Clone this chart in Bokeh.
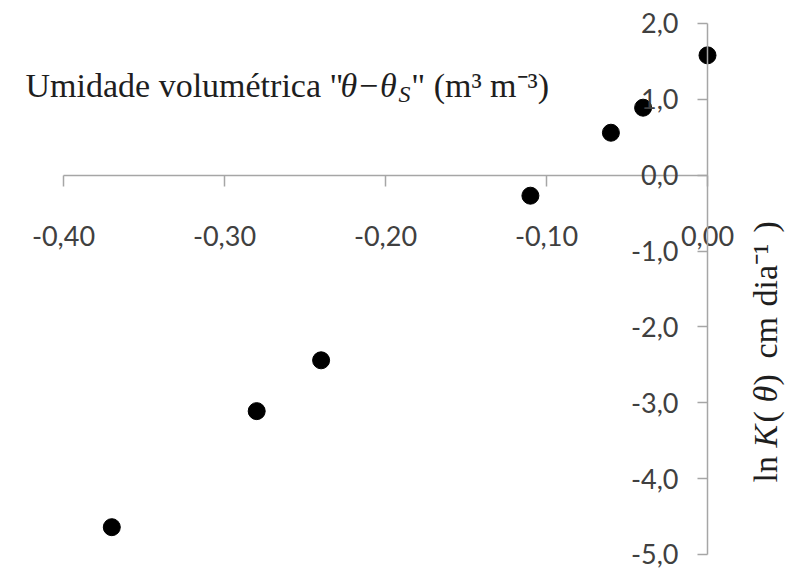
import math
from bokeh.plotting import figure
from bokeh.models import Range1d, FixedTicker, Label
from bokeh.embed import file_html
from bokeh.resources import INLINE

# ---- data ----
theta_diff = [-0.37, -0.28, -0.24, -0.11, -0.06, -0.04, 0.00]
ln_k = [-4.64, -3.11, -2.44, -0.27, 0.56, 0.89, 1.58]

x_ticks = [-0.40, -0.30, -0.20, -0.10, 0.00]
x_tick_labels = ["-0,40", "-0,30", "-0,20", "-0,10", "0,00"]
y_ticks = [-5.0, -4.0, -3.0, -2.0, -1.0, 0.0, 1.0, 2.0]
y_tick_labels = ["-5,0", "-4,0", "-3,0", "-2,0", "-1,0", "0,0", "1,0", "2,0"]

title_parts = ['Umidade volumétrica "', "θ−θ", "S", '" (m³ m⁻³)']
# y title pieces: (text, italic?)
y_title_parts = [("ln ", False), ("K", True), ("(", False), ("θ", True), (")", False),
                 ("cm", False), ("dia⁻¹", False), (")", False)]

AXIS_GRAY = "#a6a6a6"
LABEL_GRAY = "#404040"
TEXT_COLOR = "#1e1e1e"
SERIF = "Liberation Serif"

# the plotting frame fills the whole canvas so nothing gets clipped
p = figure(width=785, height=570, output_backend="svg", toolbar_location=None,
           x_range=Range1d(-0.43913, 0.048447), y_range=Range1d(-5.2110, 2.3032),
           min_border_left=0, min_border_right=0, min_border_top=0, min_border_bottom=0)
p.outline_line_color = None
p.xgrid.visible = False
p.ygrid.visible = False
p.background_fill_color = "white"
p.border_fill_color = "white"

p.scatter(theta_diff, ln_k, size=17, color="black")

# x axis through y = 0
xa = p.xaxis[0]
xa.fixed_location = 0
xa.bounds = (min(x_ticks), max(x_ticks))
xa.ticker = FixedTicker(ticks=x_ticks)
xa.major_label_overrides = dict(zip(x_ticks, x_tick_labels))
xa.major_tick_out = 11
xa.major_tick_in = 0
xa.minor_tick_out = 0
xa.minor_tick_in = 0
xa.axis_line_color = AXIS_GRAY
xa.axis_line_width = 1.5
xa.major_tick_line_color = AXIS_GRAY
xa.major_tick_line_width = 1.5
xa.major_label_standoff = 40
xa.major_label_text_font = "Lato"
xa.major_label_text_font_size = "27px"
xa.major_label_text_color = LABEL_GRAY

# y axis through x = 0
ya = p.yaxis[0]
ya.fixed_location = 0
ya.bounds = (min(y_ticks), max(y_ticks))
ya.ticker = FixedTicker(ticks=y_ticks)
ya.major_label_overrides = dict(zip(y_ticks, y_tick_labels))
ya.major_tick_out = 10
ya.major_tick_in = 0
ya.minor_tick_out = 0
ya.minor_tick_in = 0
ya.axis_line_color = AXIS_GRAY
ya.axis_line_width = 1.5
ya.major_tick_line_color = AXIS_GRAY
ya.major_tick_line_width = 1.5
ya.major_label_standoff = 19
ya.major_label_text_font = "Lato"
ya.major_label_text_font_size = "27px"
ya.major_label_text_color = LABEL_GRAY

# x-axis title placed in the plot area like the original
TY = 1.182
p.add_layout(Label(x=-0.4236, y=TY, text=title_parts[0], text_font=SERIF,
                   text_font_size="34px", text_color=TEXT_COLOR, text_baseline="alphabetic"))
p.add_layout(Label(x=-0.2280, y=TY, text=title_parts[1], text_font=SERIF,
                   text_font_style="italic", text_font_size="34px", text_color=TEXT_COLOR,
                   text_baseline="alphabetic"))
p.add_layout(Label(x=-0.1920, y=TY - 0.105, text=title_parts[2], text_font=SERIF,
                   text_font_style="italic", text_font_size="24px", text_color=TEXT_COLOR,
                   text_baseline="alphabetic"))
p.add_layout(Label(x=-0.1840, y=TY, text=title_parts[3], text_font=SERIF,
                   text_font_size="34px", text_color=TEXT_COLOR, text_baseline="alphabetic"))

# y-axis title on the right, reading bottom to top (pieces so K and θ are italic)
y_piece_pos = [-4.0508, -3.5894, -3.2599, -2.9962, -2.7721, -2.4162, -1.7308, -0.7552]
for (txt, ital), ypos in zip(y_title_parts, y_piece_pos):
    p.add_layout(Label(x=0.03602, y=ypos, text=txt, angle=math.pi / 2, text_font=SERIF,
                       text_font_style="italic" if ital else "normal",
                       text_font_size="34px", text_color=TEXT_COLOR, text_align="left",
                       text_baseline="middle"))

open("out.html", "w").write(file_html(p, INLINE))
